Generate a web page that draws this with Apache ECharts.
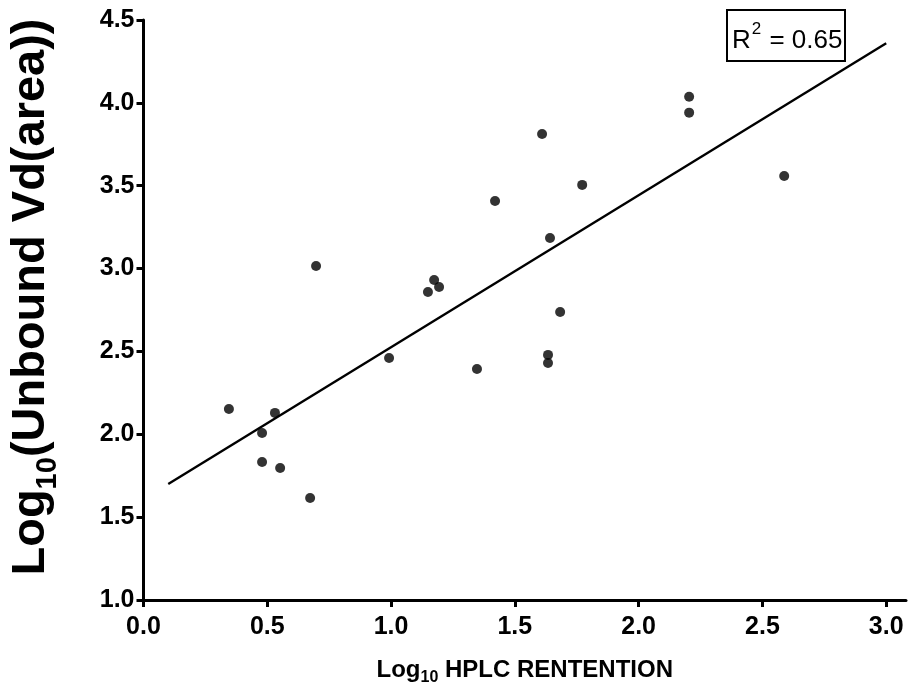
<!DOCTYPE html>
<html>
<head>
<meta charset="utf-8">
<script src="https://cdn.jsdelivr.net/npm/echarts@6/dist/echarts.min.js"></script>
<style>
  html, body { margin: 0; padding: 0; background: #fff; }
  #chart { width: 909px; height: 689px; }
</style>
</head>
<body>
<div id="chart"></div>
<script>
// Log10 HPLC retention (x) against log10 unbound Vd(area) (y)
const retention = [0.345, 0.479, 0.531, 0.479, 0.552, 0.673, 0.697, 0.992, 1.149, 1.174, 1.194,
                   1.347, 1.420, 1.610, 1.642, 1.634, 1.634, 1.683, 1.772, 2.204, 2.204, 2.588];
const unboundVd = [2.153, 2.008, 2.129, 1.833, 1.797, 1.616, 3.016, 2.460, 2.859, 2.931, 2.889,
                   2.394, 3.408, 3.812, 3.185, 2.479, 2.430, 2.738, 3.505, 4.037, 3.941, 3.559];

// Fitted regression line endpoints
const fitX = [0.1, 3.0];
const fitY = [1.70, 4.36];

const xTicks = [0, 0.5, 1.0, 1.5, 2.0, 2.5, 3.0];
const yTicks = [1.0, 1.5, 2.0, 2.5, 3.0, 3.5, 4.0, 4.5];
const rSquared = '0.65';

const font = "'Liberation Sans', Arial, Helvetica, sans-serif";

const points = retention.map((x, i) => [x, unboundVd[i]]);
const fitLine = fitX.map((x, i) => [x, fitY[i]]);

const chart = echarts.init(document.getElementById('chart'), null, { renderer: 'canvas' });

chart.setOption({
  backgroundColor: '#ffffff',
  animation: false,
  title: {
    text: '{t|R}{sup|2}{t| = ' + rSquared + '}',
    left: 727,
    top: 10,
    padding: [6, 3, 7, 5],
    borderColor: '#000',
    borderWidth: 2,
    textStyle: {
      rich: {
        t: { fontFamily: font, fontWeight: 'normal', fontSize: 26, color: '#000', lineHeight: 38, verticalAlign: 'bottom' },
        sup: { fontFamily: font, fontWeight: 'normal', fontSize: 17, color: '#000', lineHeight: 38, verticalAlign: 'top', padding: [5, 1, 0, 1] }
      }
    }
  },
  grid: { left: 143.5, right: 3, top: 20, bottom: 89, containLabel: false, outerBoundsMode: 'none' },
  xAxis: {
    type: 'value',
    min: 0,
    max: 3.08,
    interval: 0.5,
    splitLine: { show: false },
    axisLine: { lineStyle: { color: '#000', width: 3 } },
    axisTick: { length: 7, lineStyle: { color: '#000', width: 3 }, customValues: xTicks },
    axisLabel: {
      customValues: xTicks,
      formatter: v => v.toFixed(1),
      color: '#000', fontFamily: font, fontWeight: 'bold', fontSize: 25, margin: 15
    },
    name: '{b|Log}{s|10}{b| HPLC RENTENTION}',
    nameLocation: 'middle',
    nameGap: 56,
    nameTextStyle: {
      rich: {
        b: { fontFamily: font, fontWeight: 'bold', fontSize: 24, color: '#000', lineHeight: 26, verticalAlign: 'bottom' },
        s: { fontFamily: font, fontWeight: 'bold', fontSize: 16, color: '#000', lineHeight: 26, verticalAlign: 'bottom', padding: [0, 0, -4, 0] }
      }
    }
  },
  yAxis: {
    type: 'value',
    min: 1.0,
    max: 4.5,
    interval: 0.5,
    splitLine: { show: false },
    axisLine: { lineStyle: { color: '#000', width: 3 } },
    axisTick: { length: 7, lineStyle: { color: '#000', width: 3 }, customValues: yTicks },
    axisLabel: {
      customValues: yTicks,
      formatter: v => v.toFixed(1),
      color: '#000', fontFamily: font, fontWeight: 'bold', fontSize: 25, margin: 9
    },
    name: '{b|Log}{s|10}{b|(Unbound Vd(area))}',
    nameLocation: 'middle',
    nameRotate: 90,
    nameGap: 89,
    nameTextStyle: {
      padding: [0, 0, 0, 26],
      rich: {
        b: { fontFamily: font, fontWeight: 'bold', fontSize: 47, color: '#000', lineHeight: 50, verticalAlign: 'bottom' },
        s: { fontFamily: font, fontWeight: 'bold', fontSize: 29, color: '#000', lineHeight: 50, verticalAlign: 'bottom', padding: [0, 0, -8, 0] }
      }
    }
  },
  series: [
    {
      type: 'scatter',
      data: points,
      symbol: 'circle',
      symbolSize: 10,
      itemStyle: { color: '#000' },
      z: 3
    },
    {
      type: 'line',
      data: fitLine,
      symbol: 'none',
      lineStyle: { color: '#000', width: 2.4 },
      z: 2
    }
  ]
});
</script>
</body>
</html>
